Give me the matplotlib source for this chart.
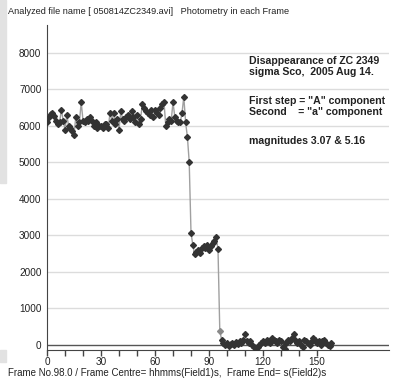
import matplotlib
matplotlib.use("Agg")
import matplotlib.pyplot as plt
from matplotlib.patches import Rectangle

# ---- data ----
frames = list(range(0, 159))
flux = [
    6100, 6250, 6320, 6350, 6280, 6150, 6050, 6100, 6450, 6150,
    5900, 6300, 6000, 5950, 5850, 5750, 6250, 6000, 6100, 6650,
    6150, 6100, 6200, 6150, 6250, 6150, 6000, 6100, 5950, 6000,
    6000, 5950, 6050, 6050, 5950, 6350, 6150, 6350, 6050, 6200,
    5900, 6400, 6200, 6150, 6250, 6300, 6200, 6400, 6250, 6100,
    6300, 6050, 6200, 6600, 6500, 6400, 6350, 6300, 6450, 6250,
    6450, 6350, 6300, 6500, 6600, 6650, 6000, 6100, 6200, 6150,
    6650, 6250, 6150, 6100, 6100, 6350, 6800, 6100, 5700, 5020,
    3080, 2740, 2480, 2550, 2600, 2520, 2650, 2700, 2650, 2750,
    2600, 2700, 2800, 2850, 2950, 2620, 380, 150, 50, 0,
    50, -20, 30, 50, 0, 80, 40, 100, 50, 150,
    300, 100, 50, 100, 0, -50, -100, -50, 0, 50,
    100, 50, 150, 100, 50, 200, 150, 100, 50, 150,
    100, -50, -100, 50, 150, 100, 200, 300, 150, 50,
    100, 0, -50, 150, 100, 50, 0, 100, 200, 150,
    50, 100, 0, 100, 150, 50, 0, -20, 50,
]
highlight_frame = 96

y_ticks = [0, 1000, 2000, 3000, 4000, 5000, 6000, 7000, 8000]
x_labels = [0, 30, 60, 90, 120, 150]
x_minor = list(range(0, 160, 10))

title_text = "Analyzed file name [ 050814ZC2349.avi]   Photometry in each Frame"
note_lines = [
    ("Disappearance of ZC 2349\nsigma Sco,  2005 Aug 14.", 0),
    ("First step = \"A\" component\nSecond    = \"a\" component", 1),
    ("magnitudes 3.07 & 5.16", 2),
]
footer_text = "Frame No.98.0 / Frame Centre= hhmms(Field1)s,  Frame End= s(Field2)s"

plt.rcParams['font.family'] = ['Liberation Sans', 'DejaVu Sans']

W, H = 418, 382
fig = plt.figure(figsize=(W / 100, H / 100), dpi=100)
fig.patch.set_facecolor('white')

# faint watermark patches
fig.patches.append(Rectangle((0, 1 - 183 / H), 6 / W, 183 / H, transform=fig.transFigure,
                             color='#e2e2e2', zorder=0))
fig.patches.append(Rectangle((0, 1 - 362 / H), 6 / W, 12 / H, transform=fig.transFigure,
                             color='#e2e2e2', zorder=0))

left, right, top, bottom = 47, 389, 25, 350
ax = fig.add_axes([left / W, 1 - bottom / H, (right - left) / W, (bottom - top) / H])
ax.set_xlim(0, 190)
ax.set_ylim(-137, 8767)

for v in y_ticks[1:]:
    ax.axhline(v, color='#dcdcdc', lw=1, zorder=1)
ax.axhline(0, color='#555555', lw=1, zorder=1)

ax.plot(frames, flux, color='#a0a0a0', lw=1, zorder=2)
pts_x = [f for f in frames if f != highlight_frame]
pts_y = [v for f, v in zip(frames, flux) if f != highlight_frame]
ax.plot(pts_x, pts_y, ls='none', marker='D', ms=3.0, color='#333333', zorder=3)
ax.plot([highlight_frame], [flux[frames.index(highlight_frame)]], ls='none', marker='D',
        ms=3.0, color='#8a8a8a', zorder=3)

for s in ['top', 'right']:
    ax.spines[s].set_visible(False)
ax.spines['left'].set_color('#444444')
ax.spines['bottom'].set_color('#444444')

ax.set_yticks(y_ticks)
ax.set_yticklabels([str(v) for v in y_ticks])
ax.tick_params(axis='y', length=0, pad=4, labelsize=7.2, colors='#222222')

ax.set_xticks(x_minor)
ax.set_xticklabels([str(v) if v in x_labels else '' for v in x_minor])
ax.tick_params(axis='x', direction='out', length=4, width=1, color='#444444',
               labelsize=7.2, labelcolor='#222222', pad=1)

fig.text(8 / W, 1 - 12 / H, title_text, fontsize=6.6, color='#222222', va='center', ha='left')
note_y = [61, 101, 141]
for (txt, i) in note_lines:
    fig.text(249 / W, 1 - (note_y[i] - 5) / H, txt, fontsize=7.6, fontweight='bold',
             color='#222222', va='top', ha='left', linespacing=1.15)
fig.text(8 / W, 1 - 373 / H, footer_text, fontsize=7.0, color='#222222', va='center', ha='left')

fig.savefig('out.png', dpi=100)
